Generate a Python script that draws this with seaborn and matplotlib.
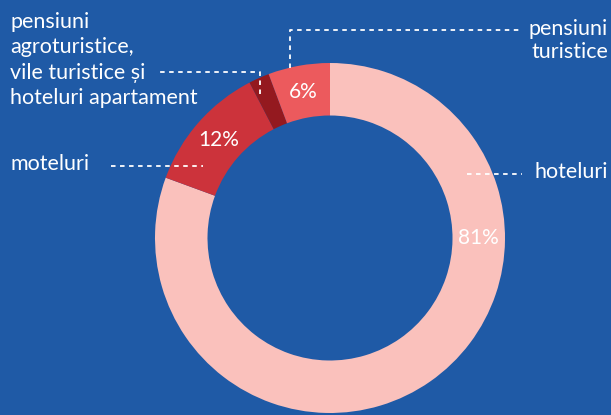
import numpy as np
import seaborn as sns
import matplotlib.pyplot as plt

# segment data (clockwise from 12 o'clock)
categories = ["hoteluri", "moteluri",
              "pensiuni agroturistice, vile turistice și hoteluri apartament",
              "pensiuni turistice"]
shares = [80.6, 11.8, 1.9, 5.7]
pct_labels = ["81%", "12%", "", "6%"]
colors = ["#FAC1BC", "#CC333B", "#94191F", "#EC5A5D"]
bg = "#1F5AA6"

sns.set_theme(style="white")
plt.rcParams['font.family'] = ['Lato', 'DejaVu Sans']

W, H = 611, 415
fig = plt.figure(figsize=(W / 100, H / 100), dpi=100, facecolor=bg)
ax = fig.add_axes([0, 0, 1, 1])
ax.set_facecolor(bg)

cx, cy = 330, H - 238
R = 175
ring = 0.30

pal = sns.color_palette(colors)
wedges, _ = ax.pie(shares, colors=pal, startangle=90, counterclock=False,
                   center=(cx, cy), radius=R, frame=True,
                   wedgeprops=dict(width=R * ring, linewidth=0))
ax.set_xlim(0, W)
ax.set_ylim(0, H)
ax.set_aspect("equal")
ax.axis("off")

# percentage labels, placed in the middle of the ring
mid_r = R * (1 - ring / 2)
cum = np.cumsum([0] + shares)
for i, lab in enumerate(pct_labels):
    if not lab:
        continue
    if i == 0:
        ang = 90.0  # hotel label sits at 3 o'clock
    else:
        ang = (cum[i] + cum[i + 1]) / 2 / 100 * 360
    th = np.deg2rad(90 - ang)
    ax.text(cx + mid_r * np.cos(th), cy + mid_r * np.sin(th), lab,
            color="white", fontsize=15, ha="center", va="center")

def Y(y):
    return H - y

ls = dict(color="white", lw=1.3, linestyle=(0, (2.5, 2.5)))
fs = 15.5

# pensiuni turistice
ax.plot([290, 290, 519], [Y(68), Y(30), Y(30)], **ls)
ax.text(608, Y(19), "pensiuni\nturistice", color="white", fontsize=fs,
        ha="right", va="top", linespacing=1.2)

# pensiuni agroturistice ...
ax.plot([260, 260, 156], [Y(94), Y(72), Y(72)], **ls)
ax.text(10, Y(12), "pensiuni\nagroturistice,\nvile turistice și\nhoteluri apartament",
        color="white", fontsize=fs, ha="left", va="top", linespacing=1.34)

# moteluri
ax.plot([111, 203], [Y(166), Y(166)], **ls)
ax.text(10, Y(164), "moteluri", color="white", fontsize=fs, ha="left", va="center")

# hoteluri
ax.plot([467, 522], [Y(174), Y(174)], **ls)
ax.text(535, Y(172), "hoteluri", color="white", fontsize=fs, ha="left", va="center")

fig.savefig("out.png", dpi=100, facecolor=bg)
